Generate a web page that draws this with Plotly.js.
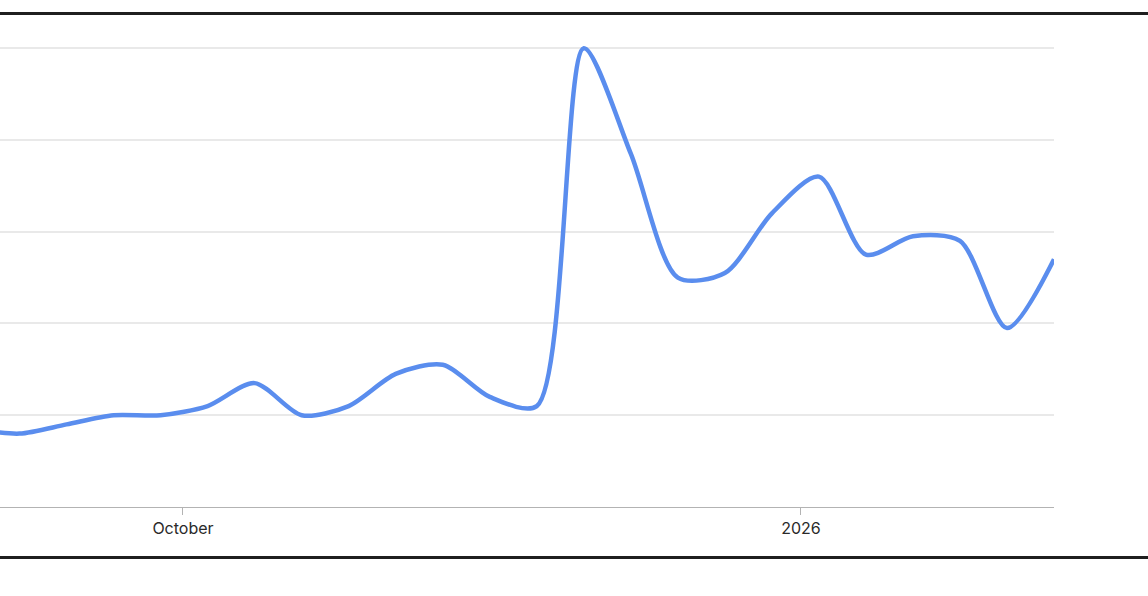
<!DOCTYPE html>
<html>
<head>
<meta charset="utf-8">
<script src="https://cdn.plot.ly/plotly-3.0.1.min.js"></script>
<style>
  html, body { margin: 0; padding: 0; background: #fff; overflow: hidden; }
  #wrap { position: relative; width: 1148px; height: 596px; }
  #chart { position: absolute; left: 0; top: 0; width: 1148px; height: 596px; }
  .rule { position: absolute; left: 0; width: 1148px; height: 3px; background: #1f1f1f; }
</style>
</head>
<body>
<div id="wrap">
  <div id="chart"></div>
  <div class="rule" style="top:12px"></div>
  <div class="rule" style="top:556px"></div>
</div>
<script>
// Weekly search-interest values (0-100)
var weeks = [
  "2025-08-30 16:00", "2025-09-06 16:00", "2025-09-13 16:00", "2025-09-20 16:00",
  "2025-09-27 16:00", "2025-10-04 16:00", "2025-10-11 16:00", "2025-10-18 16:00",
  "2025-10-25 16:00", "2025-11-01 16:00", "2025-11-08 16:00", "2025-11-15 16:00",
  "2025-11-22 16:00", "2025-11-29 16:00", "2025-12-06 16:00", "2025-12-13 16:00",
  "2025-12-20 16:00", "2025-12-27 16:00", "2026-01-03 16:00", "2026-01-10 16:00",
  "2026-01-17 16:00", "2026-01-24 16:00", "2026-01-31 16:00", "2026-02-07 16:00"
];
var interest = [17, 16, 18, 20, 20, 22, 27, 20, 22, 29, 31, 24, 22, 100, 77, 50, 51, 64, 72, 55, 59, 58, 39, 54];

var tickDates = ["2025-10-01", "2026-01-01"];
var tickLabels = ["October", "2026"];

var trace = {
  x: weeks,
  y: interest,
  type: "scatter",
  mode: "lines",
  line: { color: "#5a8dee", width: 4.5, shape: "spline", smoothing: 0.8 },
  hoverinfo: "x+y"
};

var layout = {
  width: 1148,
  height: 596,
  margin: { l: 0, r: 94, t: 38.8, b: 89, pad: 0 },
  paper_bgcolor: "#ffffff",
  plot_bgcolor: "#ffffff",
  showlegend: false,
  font: { family: "Inter, 'Open Sans', sans-serif", color: "#2a2a2a", size: 16 },
  xaxis: {
    type: "date",
    range: ["2025-09-03 18:14", "2026-02-07 16:00"],
    tickvals: tickDates,
    ticktext: tickLabels,
    showgrid: false,
    zeroline: false,
    showline: true,
    linecolor: "#b3b3b3",
    linewidth: 1,
    ticks: "outside",
    ticklen: 7,
    tickwidth: 1,
    tickcolor: "#b3b3b3",
    tickfont: { size: 16, color: "#2a2a2a" },
    fixedrange: true
  },
  yaxis: {
    range: [0, 102],
    dtick: 20,
    tick0: 0,
    showticklabels: false,
    showgrid: true,
    gridcolor: "#e9e9e9",
    gridwidth: 2,
    zeroline: false,
    showline: false,
    ticks: "",
    fixedrange: true
  }
};

Plotly.newPlot("chart", [trace], layout, { displayModeBar: false, staticPlot: true });
</script>
</body>
</html>
